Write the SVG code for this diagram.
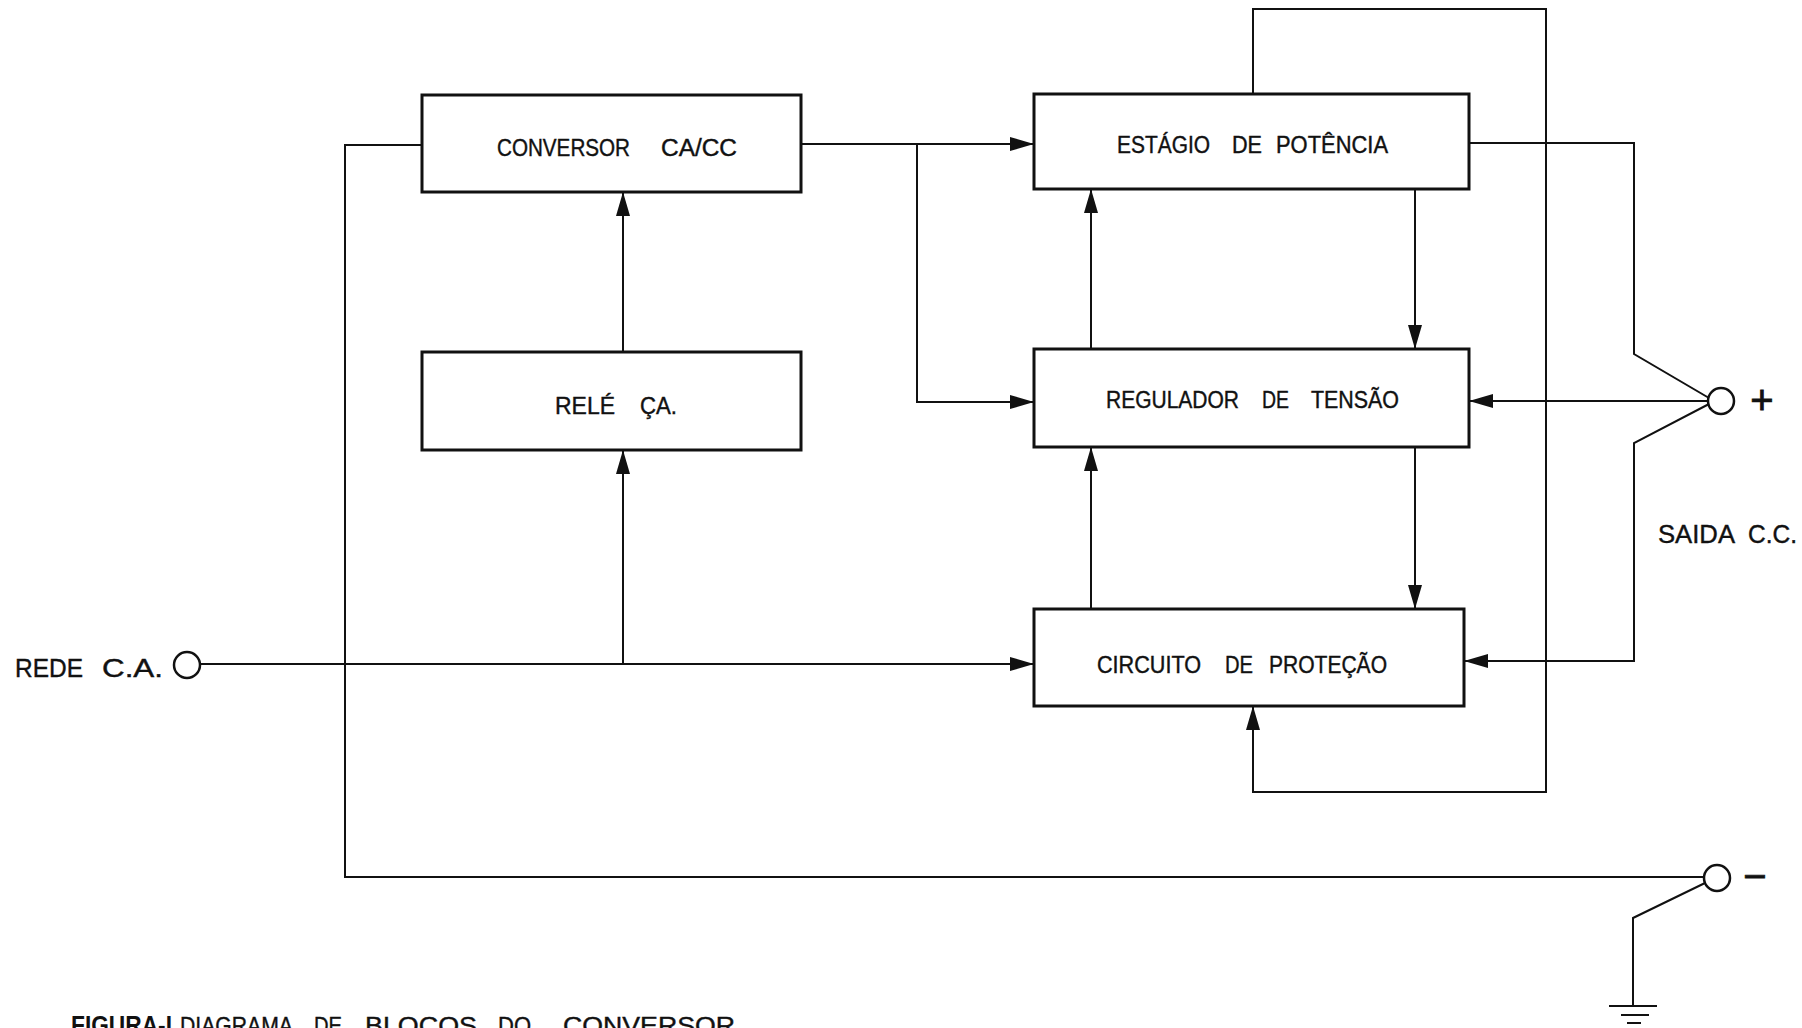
<svg xmlns="http://www.w3.org/2000/svg" width="1802" height="1028" viewBox="0 0 1802 1028">
  <style>
    .box { fill: #ffffff; stroke: #111111; stroke-width: 3; }
    .wire { fill: none; stroke: #111111; stroke-width: 2; }
    .arrow { fill: none; stroke: #111111; stroke-width: 2; marker-end: url(#head); }
    .term { fill: #ffffff; stroke: #111111; stroke-width: 2.5; }
    .lbl { font-family: "Liberation Sans", Arial, sans-serif; font-size: 23px; fill: #111111; stroke: #111111; stroke-width: 0.4; }
    .big { font-family: "Liberation Sans", Arial, sans-serif; font-size: 25px; fill: #111111; stroke: #111111; stroke-width: 0.4; }
    .sign { font-family: "Liberation Sans", Arial, sans-serif; font-size: 40px; fill: #111111; stroke: #111111; stroke-width: 0.8; text-anchor: middle; }
    .cap { font-family: "Liberation Sans", Arial, sans-serif; font-size: 24px; fill: #111111; stroke: #111111; stroke-width: 0.4; }
    .cap-b { font-family: "Liberation Sans", Arial, sans-serif; font-size: 26px; font-weight: bold; fill: #111111; }
  </style>
  <defs>
    <marker id="head" markerUnits="userSpaceOnUse" markerWidth="24" markerHeight="14" refX="24" refY="7" orient="auto">
      <path d="M0,0 L24,7 L0,14 Z" fill="#111111"/>
    </marker>
  </defs>

  <rect width="1802" height="1028" fill="#ffffff"/>

  <!-- wiring between blocks -->
  <g id="connectors">
    <!-- converter output to power stage, with branch to regulator -->
    <path class="arrow" d="M801,144 H1034"/>
    <path class="arrow" d="M917,144 V402 H1034"/>
    <!-- relay drives converter -->
    <path class="arrow" d="M623,352 V192"/>
    <!-- mains input to protection circuit, with branch to relay -->
    <path class="arrow" d="M200,664 H1034"/>
    <path class="arrow" d="M623,664 V450"/>
    <!-- return line to negative output -->
    <path class="wire" d="M422,145 H345 V877 H1704"/>
    <!-- power stage / regulator / protection links -->
    <path class="arrow" d="M1415,189 V349"/>
    <path class="arrow" d="M1091,349 V189"/>
    <path class="arrow" d="M1091,609 V447"/>
    <path class="arrow" d="M1415,447 V609"/>
    <!-- feedback loop from power stage to protection -->
    <path class="arrow" d="M1253,94 V9 H1546 V792 H1253 V706"/>
    <!-- positive output wiring -->
    <path class="wire" d="M1469,143 H1634 V354 L1709,398"/>
    <path class="arrow" d="M1709,404 L1634,443 V661 H1464"/>
    <path class="arrow" d="M1708,401 H1469"/>
    <!-- negative output to ground -->
    <path class="wire" d="M1705,883 L1633,918 V1006"/>
    <path class="wire" d="M1609,1006 H1657 M1621,1015 H1649 M1627,1023 H1641" stroke-width="2.5"/>
  </g>

  <g id="conversor">
    <rect class="box" x="422" y="95" width="379" height="97"/>
    <text class="lbl" x="497" y="156" textLength="133" lengthAdjust="spacingAndGlyphs">CONVERSOR</text>
    <text class="lbl" x="661" y="156" textLength="76" lengthAdjust="spacingAndGlyphs">CA/CC</text>
  </g>

  <g id="rele">
    <rect class="box" x="422" y="352" width="379" height="98"/>
    <text class="lbl" x="555" y="414" textLength="60" lengthAdjust="spacingAndGlyphs">RELÉ</text>
    <text class="lbl" x="640" y="414" textLength="37" lengthAdjust="spacingAndGlyphs">ÇA.</text>
  </g>

  <g id="estagio">
    <rect class="box" x="1034" y="94" width="435" height="95"/>
    <text class="lbl" x="1117" y="153" textLength="93" lengthAdjust="spacingAndGlyphs">ESTÁGIO</text>
    <text class="lbl" x="1232" y="153" textLength="30" lengthAdjust="spacingAndGlyphs">DE</text>
    <text class="lbl" x="1276" y="153" textLength="112" lengthAdjust="spacingAndGlyphs">POTÊNCIA</text>
  </g>

  <g id="regulador">
    <rect class="box" x="1034" y="349" width="435" height="98"/>
    <text class="lbl" x="1106" y="408" textLength="133" lengthAdjust="spacingAndGlyphs">REGULADOR</text>
    <text class="lbl" x="1262" y="408" textLength="27" lengthAdjust="spacingAndGlyphs">DE</text>
    <text class="lbl" x="1311" y="408" textLength="88" lengthAdjust="spacingAndGlyphs">TENSÃO</text>
  </g>

  <g id="circuito">
    <rect class="box" x="1034" y="609" width="430" height="97"/>
    <text class="lbl" x="1097" y="673" textLength="104" lengthAdjust="spacingAndGlyphs">CIRCUITO</text>
    <text class="lbl" x="1225" y="673" textLength="28" lengthAdjust="spacingAndGlyphs">DE</text>
    <text class="lbl" x="1269" y="673" textLength="118" lengthAdjust="spacingAndGlyphs">PROTEÇÃO</text>
  </g>

  <g id="rede">
    <circle class="term" cx="187" cy="665" r="13"/>
    <text class="big" x="15" y="677" textLength="68" lengthAdjust="spacingAndGlyphs">REDE</text>
    <text class="big" x="102" y="677" textLength="61" lengthAdjust="spacingAndGlyphs">C.A.</text>
  </g>

  <g id="saida-positiva">
    <circle class="term" cx="1721" cy="401" r="13"/>
    <text class="sign" x="1762" y="414">+</text>
  </g>

  <g id="saida-negativa">
    <circle class="term" cx="1717" cy="878" r="13"/>
    <text class="sign" x="1755" y="890">−</text>
  </g>

  <g id="saida-label">
    <text class="big" x="1658" y="543" textLength="77" lengthAdjust="spacingAndGlyphs">SAIDA</text>
    <text class="big" x="1748" y="543" textLength="49" lengthAdjust="spacingAndGlyphs">C.C.</text>
  </g>

  <g id="legenda">
    <text class="cap-b" x="71" y="1034" textLength="101" lengthAdjust="spacingAndGlyphs">FIGURA-I</text>
    <text class="cap" x="180" y="1034" textLength="113" lengthAdjust="spacingAndGlyphs">DIAGRAMA</text>
    <text class="cap" x="314" y="1034" textLength="28" lengthAdjust="spacingAndGlyphs">DE</text>
    <text class="cap" x="365" y="1034" textLength="112" lengthAdjust="spacingAndGlyphs">BLOCOS</text>
    <text class="cap" x="498" y="1034" textLength="33" lengthAdjust="spacingAndGlyphs">DO</text>
    <text class="cap" x="563" y="1034" textLength="172" lengthAdjust="spacingAndGlyphs">CONVERSOR</text>
  </g>
</svg>
